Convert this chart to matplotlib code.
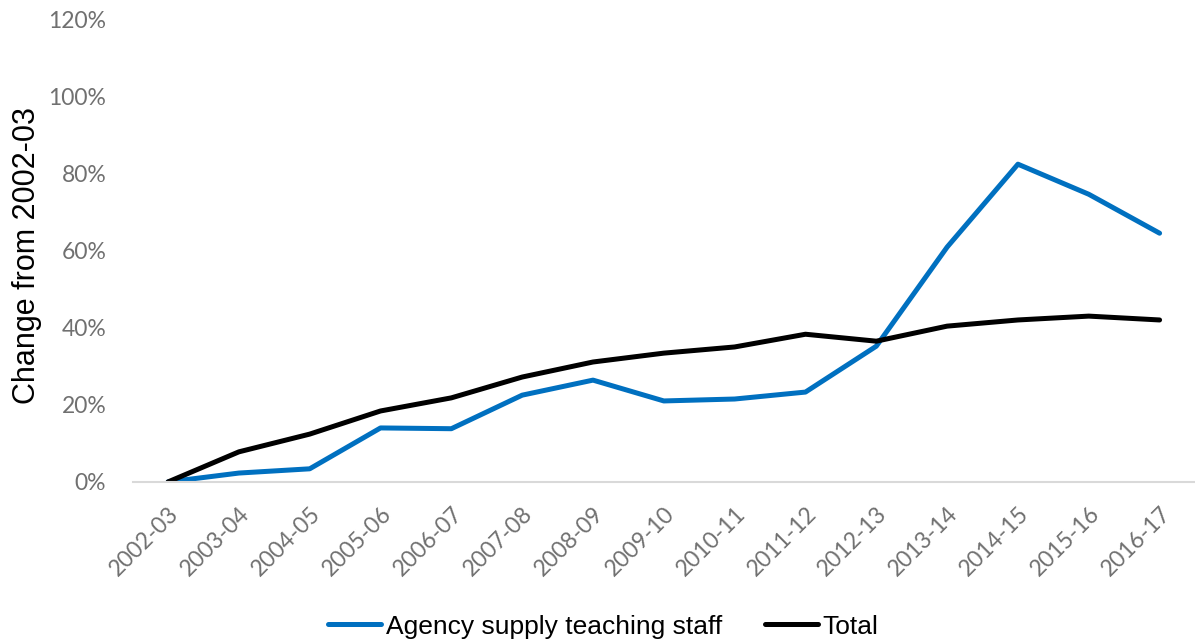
import matplotlib
matplotlib.use('Agg')
import matplotlib.pyplot as plt
from matplotlib.ticker import FuncFormatter

years = ['2002-03', '2003-04', '2004-05', '2005-06', '2006-07', '2007-08',
         '2008-09', '2009-10', '2010-11', '2011-12', '2012-13', '2013-14',
         '2014-15', '2015-16', '2016-17']
agency = [0, 2.3, 3.4, 14.0, 13.8, 22.5, 26.4, 21.0, 21.5, 23.3, 35.2,
          60.9, 82.4, 74.6, 64.5]
total = [0, 7.8, 12.4, 18.4, 21.8, 27.2, 31.1, 33.4, 35.0, 38.3, 36.5,
         40.4, 42.0, 43.0, 42.0]

fig = plt.figure(figsize=(11.95, 6.4), dpi=100)
ax = fig.add_axes([0.111, 0.247, 0.889, 0.723])

x = range(len(years))
ax.plot(x, agency, color='#0070c0', linewidth=3.6, label='Agency supply teaching staff',
        solid_capstyle='round', solid_joinstyle='round')
ax.plot(x, total, color='#000000', linewidth=3.6, label='Total',
        solid_capstyle='round', solid_joinstyle='round')

ax.set_xlim(-0.5, len(years) - 0.5)
ax.set_ylim(0, 120)
ax.set_yticks(range(0, 121, 20))
ax.yaxis.set_major_formatter(FuncFormatter(lambda v, p: '{:.0f}%'.format(v)))
ax.set_xticks(list(x))
ax.set_xticklabels(years, rotation=45, ha='right', rotation_mode='anchor')

for a in ['top', 'right', 'left']:
    ax.spines[a].set_visible(False)
ax.spines['bottom'].set_color('#d9d9d9')
ax.spines['bottom'].set_linewidth(1.5)
ax.tick_params(axis='both', length=0, labelsize=16.5, labelcolor='#707070')
ax.tick_params(axis='x', pad=15)
ax.tick_params(axis='y', pad=19)
for lbl in ax.get_xticklabels() + ax.get_yticklabels():
    lbl.set_family('Lato')

ax.set_ylabel('Change from 2002-03', fontsize=22, family='Liberation Sans',
              labelpad=5)
ax.yaxis.set_label_coords(-0.085, 0.49)

leg = fig.legend(loc='lower center', bbox_to_anchor=(0.505, -0.035), ncol=2,
                 frameon=False, prop={'family': 'Liberation Sans', 'size': 19},
                 handlelength=2.0, columnspacing=1.6, handletextpad=0.2)

fig.savefig('out.png', dpi=100)
